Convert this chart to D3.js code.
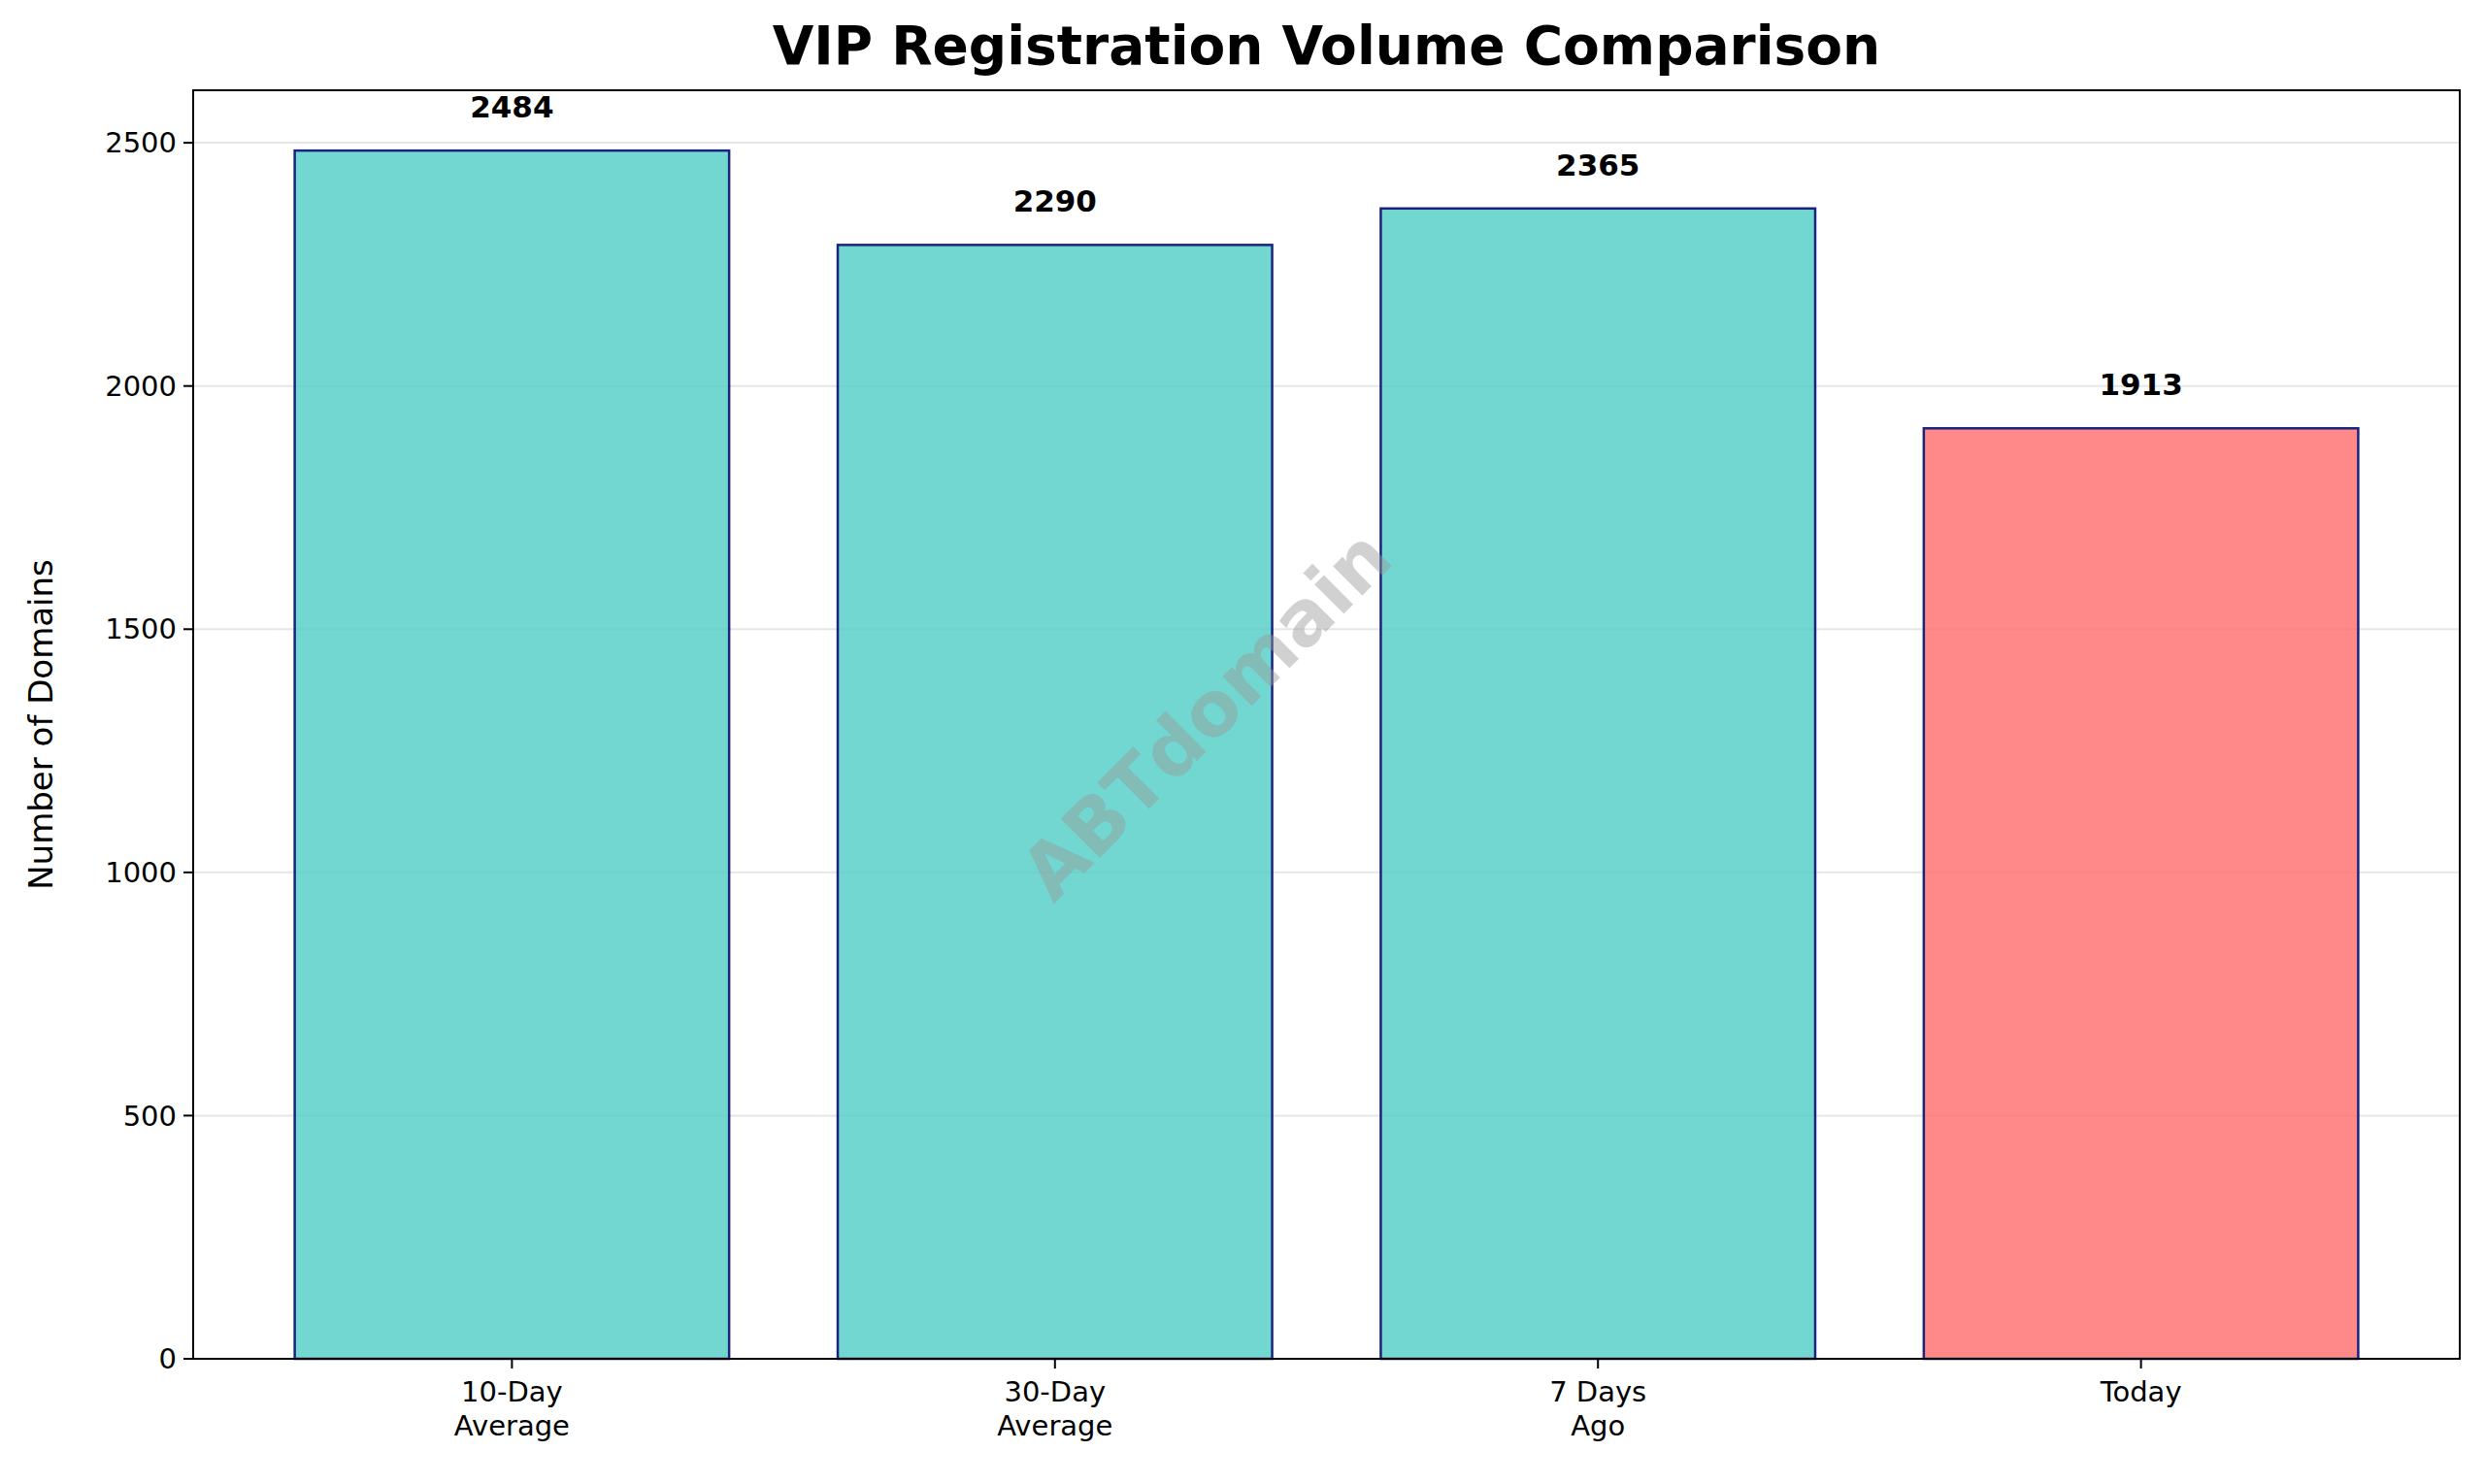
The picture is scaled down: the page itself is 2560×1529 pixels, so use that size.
<!DOCTYPE html>
<html><head><meta charset="utf-8">
<script src="https://cdn.jsdelivr.net/npm/d3@7"></script>
<style>body{margin:0;background:#fff}</style></head>
<body><svg id="c" width="2560" height="1529"></svg>
<script>
const categories=["10-Day\nAverage","30-Day\nAverage","7 Days\nAgo","Today"];
const values=[2484,2290,2365,1913];
const colors=["#4ECDC4","#4ECDC4","#4ECDC4","#FF6B6B"];
const yTicks=[0,500,1000,1500,2000,2500];

const svg=d3.select("#c");
const L=199,R=2534,T=93,B=1400;
const font="DejaVu Sans, sans-serif";
const x=d3.scaleLinear().domain([-0.587,3.587]).range([L,R]);
const y=d3.scaleLinear().domain([0,2608]).range([B,T]);
const bw=x(0.4)-x(-0.4);

svg.append("g").selectAll("line").data(yTicks).join("line")
 .attr("x1",L).attr("x2",R).attr("y1",d=>y(d)).attr("y2",d=>y(d))
 .attr("stroke","#e6e6e6").attr("stroke-width",2);

svg.append("g").selectAll("rect").data(values).join("rect")
 .attr("x",(d,i)=>x(i)-bw/2).attr("width",bw)
 .attr("y",d=>y(d)).attr("height",d=>B-y(d))
 .attr("fill",(d,i)=>colors[i]).attr("fill-opacity",0.8)
 .attr("stroke","#1a237e").attr("stroke-width",2.5);

svg.append("g").selectAll("text").data(values).join("text")
 .attr("x",(d,i)=>x(i)).attr("y",d=>y(d)-34)
 .attr("text-anchor","middle").attr("font-family",font).attr("font-weight","bold")
 .attr("font-size",31).text(d=>d);

svg.append("text").attr("transform",`translate(${(L+R)/2-120},740) rotate(-45)`)
 .attr("text-anchor","middle").attr("dominant-baseline","middle")
 .attr("font-family",font).attr("font-weight","bold").attr("font-size",78)
 .attr("fill","#999").attr("fill-opacity",0.45).text("ABTdomain");

svg.append("rect").attr("x",L).attr("y",T).attr("width",R-L).attr("height",B-T)
 .attr("fill","none").attr("stroke","#000").attr("stroke-width",2);

const ya=svg.append("g");
yTicks.forEach(t=>{
 ya.append("line").attr("x1",L-10).attr("x2",L).attr("y1",y(t)).attr("y2",y(t)).attr("stroke","#000").attr("stroke-width",2);
 ya.append("text").attr("x",L-17).attr("y",y(t)).attr("dy","0.35em").attr("text-anchor","end")
  .attr("font-family",font).attr("font-size",29).text(t);
});
categories.forEach((c,i)=>{
 svg.append("line").attr("x1",x(i)).attr("x2",x(i)).attr("y1",B).attr("y2",B+10).attr("stroke","#000").attr("stroke-width",2);
 const t=svg.append("text").attr("text-anchor","middle").attr("font-family",font).attr("font-size",29);
 c.split("\n").forEach((s,k)=>t.append("tspan").attr("x",x(i)).attr("y",B+44+k*35).text(s));
});
svg.append("text").attr("transform",`translate(54,${(T+B)/2}) rotate(-90)`).attr("text-anchor","middle")
 .attr("font-family",font).attr("font-size",34).text("Number of Domains");
svg.append("text").attr("x",(L+R)/2).attr("y",66).attr("text-anchor","middle")
 .attr("font-family",font).attr("font-weight","bold").attr("font-size",55).text("VIP Registration Volume Comparison");
</script></body></html>
